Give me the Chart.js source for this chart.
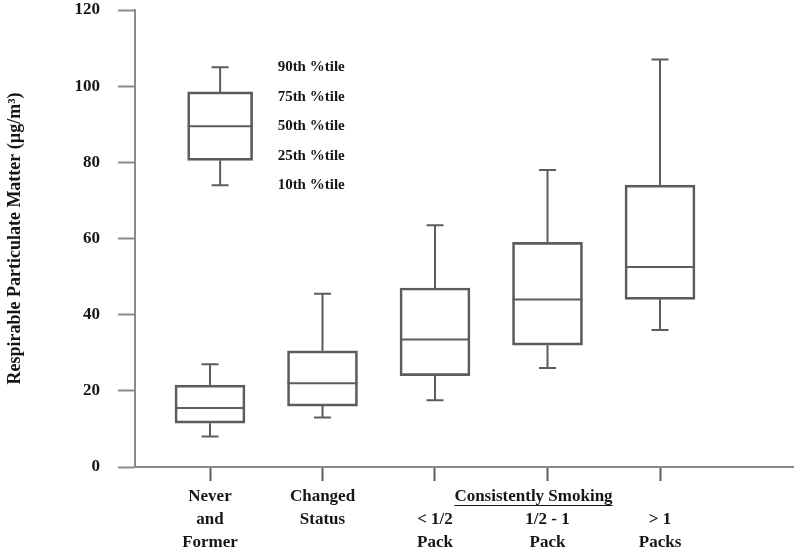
<!DOCTYPE html>
<html>
<head>
<meta charset="utf-8">
<script src="https://cdn.jsdelivr.net/npm/chart.js@4/dist/chart.umd.min.js"></script>
<style>
  html, body { margin: 0; padding: 0; background: #fff; }
  #wrap { width: 796px; height: 556px; }
</style>
</head>
<body>
<div id="wrap"><canvas id="c" width="796" height="556"></canvas></div>
<script>
// ---- data ----
const categories = [
  ['Never', 'and', 'Former'],
  ['Changed', 'Status'],
  ['', '< 1/2', 'Pack'],
  ['', '1/2 - 1', 'Pack'],
  ['', '> 1', 'Packs']
];
const groupLabel = 'Consistently Smoking';
const groupMembers = [2, 3, 4];          // indices of the categories under the group header
const p10 = [8, 13, 17.5, 26, 36];
const p25 = [11.5, 16, 24, 32, 44];
const p50 = [15.5, 22, 33.5, 44, 52.5];
const p75 = [21.5, 30.5, 47, 59, 74];
const p90 = [27, 45.5, 63.5, 78, 107];
// the key box drawn inside the plot
const keyLabels = ['90th %tile', '75th %tile', '50th %tile', '25th %tile', '10th %tile'];
const keyStats = [105, 98.5, 89.5, 80.5, 74];   // 90th, 75th, 50th, 25th, 10th
const yTicks = [0, 20, 40, 60, 80, 100, 120];
const yTitle = 'Respirable Particulate Matter (\u00b5g/m\u00b3)';

// ---- styling / layout constants ----
const KEY_POS = 1.09;
const LINE = '#5c5c5c';
const AXIS = '#8a8a8a';
const TEXT = '#161616';
const SERIF = '"Liberation Serif", "Times New Roman", serif';

const boxData = categories.map((c, i) => ({ x: i + 1, y: [p25[i], p75[i]] }));
const keyData = [{ x: KEY_POS, y: [keyStats[3], keyStats[1]] }];

const stats = [
  categories.map((c, i) => ({ lo: p10[i], med: p50[i], hi: p90[i] })),
  [{ lo: keyStats[4], med: keyStats[2], hi: keyStats[0] }]
];

const boxPlugin = {
  id: 'boxParts',
  afterDatasetsDraw(chart) {
    const ctx = chart.ctx;
    const y = chart.scales.y;
    ctx.save();
    ctx.strokeStyle = LINE;
    ctx.lineWidth = 2;
    chart.data.datasets.forEach((ds, di) => {
      const meta = chart.getDatasetMeta(di);
      meta.data.forEach((el, i) => {
        const s = stats[di][i];
        const half = el.width / 2;
        const cap = 8.5;
        const yq1 = y.getPixelForValue(ds.data[i].y[0]);
        const yq3 = y.getPixelForValue(ds.data[i].y[1]);
        const ym = y.getPixelForValue(s.med);
        const ylo = y.getPixelForValue(s.lo);
        const yhi = y.getPixelForValue(s.hi);
        ctx.beginPath();
        ctx.moveTo(el.x - half, ym); ctx.lineTo(el.x + half, ym);
        ctx.moveTo(el.x, yq3); ctx.lineTo(el.x, yhi);
        ctx.moveTo(el.x - cap, yhi); ctx.lineTo(el.x + cap, yhi);
        ctx.moveTo(el.x, yq1); ctx.lineTo(el.x, ylo);
        ctx.moveTo(el.x - cap, ylo); ctx.lineTo(el.x + cap, ylo);
        ctx.stroke();
      });
    });
    // key labels next to the key box
    const keyEl = chart.getDatasetMeta(1).data[0];
    const top = y.getPixelForValue(keyStats[0]);
    const bot = y.getPixelForValue(keyStats[4]);
    ctx.fillStyle = TEXT;
    ctx.font = 'bold 15px ' + SERIF;
    ctx.textAlign = 'left';
    ctx.textBaseline = 'middle';
    keyLabels.forEach((t, k) => {
      const yy = top + (bot - top) * k / (keyLabels.length - 1);
      ctx.fillText(t, keyEl.x + keyEl.width / 2 + 25, yy);
    });
    // group header under the x axis
    const x = chart.scales.x;
    const mid = groupMembers[Math.floor(groupMembers.length / 2)] + 1;
    const cx = x.getPixelForValue(mid) - 14;
    const cy = x.top + 14 + 4 + 11.5;
    ctx.font = 'bold 17px ' + SERIF;
    ctx.textAlign = 'center';
    ctx.fillText(groupLabel, cx, cy);
    const w = ctx.measureText(groupLabel).width;
    ctx.strokeStyle = TEXT;
    ctx.lineWidth = 1.2;
    ctx.beginPath();
    ctx.moveTo(cx - w / 2, cy + 9);
    ctx.lineTo(cx + w / 2, cy + 9);
    ctx.stroke();
    ctx.restore();
  }
};

new Chart(document.getElementById('c'), {
  type: 'bar',
  data: {
    datasets: [
      { data: boxData, backgroundColor: 'rgba(255,255,255,0)', borderColor: LINE, borderWidth: 2, borderSkipped: false, barThickness: 70 },
      { data: keyData, backgroundColor: 'rgba(255,255,255,0)', borderColor: LINE, borderWidth: 2, borderSkipped: false, barThickness: 65 }
    ]
  },
  options: {
    responsive: false,
    animation: false,
    grouped: false,
    layout: { padding: { top: 10, right: 3, left: 0, bottom: 0 } },
    plugins: { legend: { display: false }, tooltip: { enabled: false } },
    scales: {
      x: {
        type: 'linear',
        min: 1 - 75 / 112.5,
        max: 1 - 75 / 112.5 + 658 / 112.5,
        offset: false,
        afterBuildTicks: (s) => { s.ticks = categories.map((c, i) => ({ value: i + 1 })); },
        afterFit: (s) => { s.height = 89; s.paddingLeft = 0; s.paddingRight = 0; },
        grid: { offset: false, drawOnChartArea: false, drawTicks: true, tickLength: 14, tickColor: LINE, tickWidth: 2 },
        border: { color: AXIS, width: 2 },
        ticks: {
          autoSkip: false,
          maxRotation: 0,
          padding: 4,
          color: TEXT,
          font: { family: SERIF, size: 17, weight: 'bold', lineHeight: 1.36 },
          callback: (v) => categories[Math.round(v) - 1] || ''
        }
      },
      y: {
        min: 0, max: 120,
        afterBuildTicks: (s) => { s.ticks = yTicks.map(v => ({ value: v })); },
        afterFit: (s) => { s.width = 135; s.paddingTop = 0; s.paddingBottom = 0; },
        grid: { drawOnChartArea: false, drawTicks: true, tickLength: 17, tickColor: AXIS, tickWidth: 2 },
        border: { color: AXIS, width: 2 },
        ticks: {
          padding: 18,
          color: TEXT,
          font: { family: SERIF, size: 17, weight: 'bold' }
        },
        title: {
          display: true,
          text: yTitle,
          color: TEXT,
          font: { family: SERIF, size: 18, weight: 'bold' },
          padding: { top: 5, bottom: 0 }
        }
      }
    }
  },
  plugins: [boxPlugin]
});
</script>
</body>
</html>
